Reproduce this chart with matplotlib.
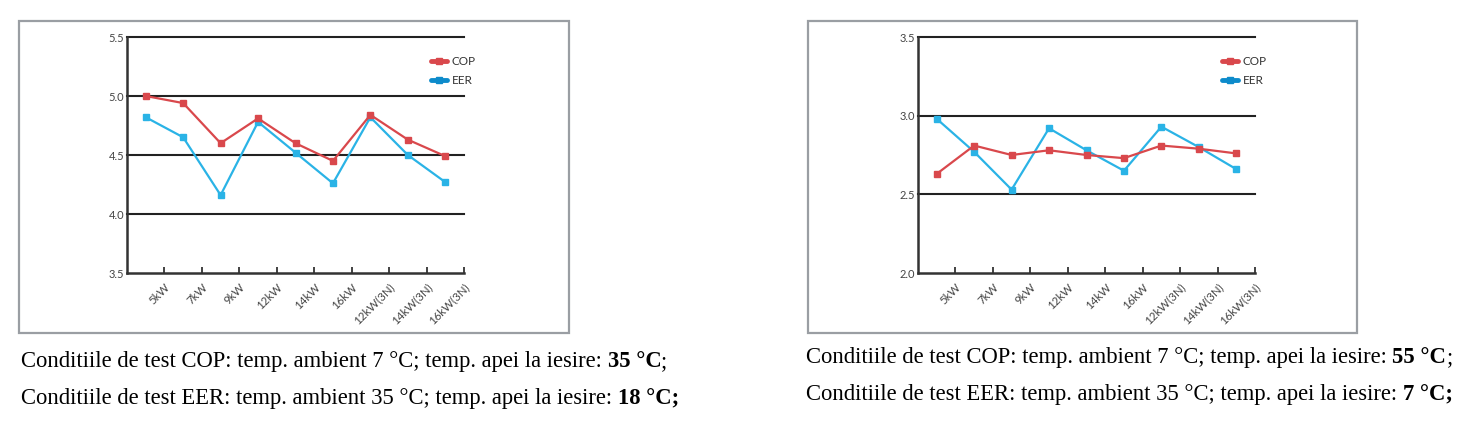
import matplotlib
matplotlib.use("Agg")
import matplotlib.pyplot as plt
from matplotlib.lines import Line2D
from matplotlib.patches import Rectangle

# modele pompe de caldura
models = ["5kW", "7kW", "9kW", "12kW", "14kW", "16kW", "12kW(3N)", "14kW(3N)", "16kW(3N)"]

# grafic stanga (apa 35 °C / 18 °C)
cop_35 = [5.00, 4.94, 4.60, 4.81, 4.60, 4.45, 4.84, 4.63, 4.49]
eer_18 = [4.82, 4.65, 4.16, 4.78, 4.52, 4.26, 4.82, 4.50, 4.27]
yticks_left = [3.5, 4.0, 4.5, 5.0, 5.5]

# grafic dreapta (apa 55 °C / 7 °C)
cop_55 = [2.63, 2.81, 2.75, 2.78, 2.75, 2.73, 2.81, 2.79, 2.76]
eer_7 = [2.98, 2.77, 2.53, 2.92, 2.78, 2.65, 2.93, 2.80, 2.66]
yticks_right = [2.0, 2.5, 3.0, 3.5]

notes_left = [("Conditiile de test COP: temp. ambient 7 °C; temp. apei la iesire: ", "35 °C", ";"),
              ("Conditiile de test EER: temp. ambient 35 °C; temp. apei la iesire: ", "18 °C;", "")]
notes_right = [("Conditiile de test COP: temp. ambient 7 °C; temp. apei la iesire: ", "55 °C", ";"),
               ("Conditiile de test EER: temp. ambient 35 °C; temp. apei la iesire: ", "7 °C;", "")]

RED = "#d9484c"
BLUE = "#2ab3e6"
BLUE_LEG = "#0d8bcb"
W, H = 1484, 423

fig = plt.figure(figsize=(W / 100, H / 100), dpi=100)
fig.patch.set_facecolor("white")


def px_box(x0, y0, x1, y1):
    return [x0 / W, 1 - y1 / H, (x1 - x0) / W, (y1 - y0) / H]


def draw_chart(rect, cop, eer, yticks):
    ax = fig.add_axes(rect)
    x = list(range(len(models)))
    ax.plot(x, cop, color=RED, lw=1.6, marker="s", ms=4.5, zorder=4)
    ax.plot(x, eer, color=BLUE, lw=1.6, marker="s", ms=4.5, zorder=3)
    ax.set_xlim(-0.5, len(models) - 0.5)
    ax.set_ylim(yticks[0], yticks[-1])
    for y in yticks[1:]:
        ax.axhline(y, color="#222222", lw=1.5, zorder=1, clip_on=False)
    ax.set_yticks(yticks)
    ax.set_yticklabels([f"{v:.1f}" for v in yticks], fontsize=8, color="#444444",
                       family="Lato")
    ax.tick_params(axis="y", length=0, pad=2)
    ax.set_xticks([i + 0.5 for i in x])
    ax.set_xticklabels(models, rotation=45, ha="right", va="top", rotation_mode="anchor",
                       fontsize=8.3, color="#444444", family="Lato")
    ax.tick_params(axis="x", direction="in", length=4, width=1.3, color="#333333", pad=6)
    for s in ["top", "right"]:
        ax.spines[s].set_visible(False)
    for s in ["left", "bottom"]:
        ax.spines[s].set_color("#333333")
        ax.spines[s].set_linewidth(1.8)
    handles = [Line2D([], [], color=RED, lw=3.5, marker="s", ms=4, solid_capstyle="round"),
               Line2D([], [], color=BLUE_LEG, lw=3.5, marker="s", ms=4, solid_capstyle="round")]
    ax.legend(handles, ["COP", "EER"], loc="upper left", bbox_to_anchor=(0.87, 0.965),
              frameon=False, handlelength=1.4, handletextpad=0.35, labelspacing=0.7,
              prop={"family": "Lato", "size": 8.5}, labelcolor="#333333")
    return ax


# rame gri
for x0, x1 in [(19, 569), (808, 1357)]:
    fig.patches.append(Rectangle((x0 / W, 1 - 333 / H), (x1 - x0) / W, (333 - 21) / H,
                                 transform=fig.transFigure, fill=False,
                                 edgecolor="#9a9ea3", lw=1.6))

draw_chart(px_box(127, 37, 464, 273), cop_35, eer_18, yticks_left)
draw_chart(px_box(918, 37, 1255, 273), cop_55, eer_7, yticks_right)

# note sub grafice, cu partea finala ingrosata
fig.canvas.draw()
renderer = fig.canvas.get_renderer()
serif = dict(family="Liberation Serif", fontsize=16.3, color="black")
for x_start, notes, baselines in [(21, notes_left, (367, 404)), (806, notes_right, (363, 400))]:
    for (plain, bold, tail), yb in zip(notes, baselines):
        t = fig.text(x_start / W, 1 - yb / H, plain, va="baseline", ha="left", **serif)
        ext = t.get_window_extent(renderer)
        tb = fig.text(ext.x1 / W, 1 - yb / H, bold, va="baseline", ha="left",
                      fontweight="bold", **serif)
        if tail:
            ext2 = tb.get_window_extent(renderer)
            fig.text(ext2.x1 / W, 1 - yb / H, tail, va="baseline", ha="left", **serif)

fig.savefig("out.png", dpi=100, facecolor="white")
